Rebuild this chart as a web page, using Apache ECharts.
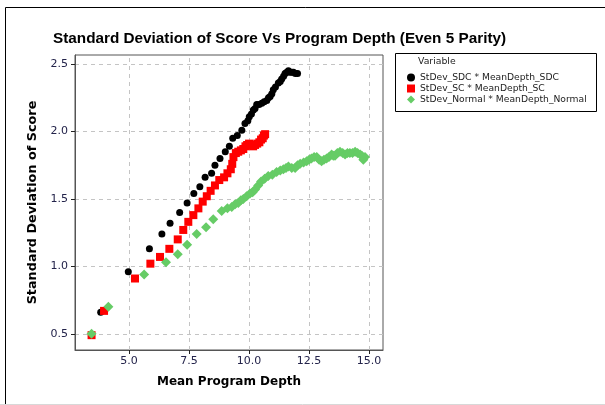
<!DOCTYPE html>
<html>
<head>
<meta charset="utf-8">
<script src="https://cdn.jsdelivr.net/npm/echarts@6/dist/echarts.min.js"></script>
<style>html,body{margin:0;padding:0;background:#fff;}#c{width:605px;height:405px;}</style>
</head>
<body>
<div id="c"></div>
<script>
const xTicks = [5, 7.5, 10, 12.5, 15];
const yTicks = [0.5, 1.0, 1.5, 2.0, 2.5];

const seriesNames = ['StDev_SDC * MeanDepth_SDC', 'StDev_SC * MeanDepth_SC', 'StDev_Normal * MeanDepth_Normal'];

const sdcX = [3.82,4.97,5.85,6.37,6.71,7.11,7.42,7.70,7.95,8.17,8.44,8.58,8.79,9.01,9.18,9.32,9.51,9.70,9.83,9.95,10.01,10.10,10.18,10.25,10.32,10.42,10.53,10.63,10.74,10.81,10.88,10.95,11.01,11.10,11.22,11.30,11.36,11.44,11.50,11.57,11.64,11.70,11.78,11.85,11.93,12.02];
const sdcY = [0.66,0.96,1.13,1.24,1.32,1.40,1.47,1.54,1.59,1.66,1.69,1.75,1.80,1.85,1.89,1.95,1.97,2.01,2.06,2.08,2.11,2.13,2.16,2.17,2.20,2.20,2.21,2.22,2.23,2.25,2.26,2.28,2.31,2.33,2.36,2.37,2.39,2.41,2.43,2.44,2.45,2.44,2.44,2.44,2.43,2.43];

const scX = [3.44,3.96,5.25,5.89,6.29,6.68,7.03,7.26,7.47,7.68,7.89,8.07,8.24,8.40,8.58,8.76,8.96,9.10,9.24,9.30,9.35,9.45,9.55,9.66,9.76,9.85,9.92,10.00,10.08,10.17,10.25,10.34,10.43,10.50,10.57,10.62,10.67];
const scY = [0.49,0.67,0.91,1.02,1.07,1.13,1.20,1.27,1.33,1.38,1.43,1.48,1.52,1.56,1.60,1.64,1.66,1.69,1.72,1.76,1.81,1.84,1.85,1.86,1.87,1.89,1.90,1.91,1.90,1.89,1.90,1.91,1.92,1.94,1.95,1.97,1.98];

const normX = [3.44,4.14,5.63,6.54,7.03,7.42,7.82,8.21,8.51,8.86,9.10,9.28,9.42,9.55,9.66,9.76,9.90,10.04,10.15,10.25,10.38,10.50,10.65,10.80,10.97,11.15,11.30,11.43,11.54,11.64,11.78,11.92,12.02,12.13,12.27,12.40,12.50,12.60,12.71,12.82,12.92,13.02,13.12,13.23,13.33,13.44,13.51,13.58,13.68,13.79,13.90,14.00,14.10,14.20,14.31,14.42,14.52,14.63,14.70,14.76,14.83];
const normY = [0.50,0.70,0.94,1.03,1.09,1.16,1.24,1.29,1.35,1.41,1.43,1.44,1.46,1.47,1.49,1.50,1.52,1.54,1.55,1.57,1.60,1.63,1.65,1.67,1.68,1.70,1.71,1.72,1.73,1.74,1.73,1.73,1.75,1.76,1.77,1.78,1.79,1.80,1.81,1.81,1.79,1.78,1.79,1.80,1.81,1.83,1.82,1.82,1.84,1.85,1.84,1.83,1.84,1.84,1.84,1.85,1.84,1.83,1.82,1.79,1.81];

function zip(a, b) { return a.map((v, i) => [v, b[i]]); }

const FONT = 'DejaVu Sans';
const gridLines = xTicks.map(v => ({ xAxis: v })).concat(yTicks.map(v => ({ yAxis: v })));

const chart = echarts.init(document.getElementById('c'), null, { renderer: 'canvas' });
chart.setOption({
  animation: false,
  backgroundColor: '#ffffff',
  title: {
    text: 'Standard Deviation of Score Vs Program Depth (Even 5 Parity)',
    left: 48, top: 26,
    textStyle: { fontFamily: 'Liberation Sans', fontWeight: 'bold', fontSize: 15.3, color: '#000' }
  },
  graphic: [
    { type: 'line', shape: { x1: 5.5, y1: 7.5, x2: 605, y2: 7.5 }, style: { stroke: '#000', lineWidth: 1 } },
    { type: 'line', shape: { x1: 5.5, y1: 7.5, x2: 5.5, y2: 405 }, style: { stroke: '#000', lineWidth: 1 } },
    { type: 'line', shape: { x1: 0, y1: 404.5, x2: 605, y2: 404.5 }, style: { stroke: '#d8d8d8', lineWidth: 1 } },
    { type: 'rect', shape: { x: 395.5, y: 53.5, width: 201, height: 58 }, style: { fill: '#fff', stroke: '#000', lineWidth: 1 }, z: 0 },
    { type: 'text', left: 418, top: 57, style: { text: 'Variable', fontFamily: FONT, fontSize: 9.3, fill: '#222' }, z: 10 }
  ],
  legend: {
    orient: 'vertical', left: 402, top: 68,
    itemWidth: 8, itemHeight: 8, itemGap: 2,
    textStyle: { fontFamily: FONT, fontSize: 9.2, color: '#222' },
    data: [
      { name: seriesNames[0], icon: 'circle' },
      { name: seriesNames[1], icon: 'rect' },
      { name: seriesNames[2], icon: 'diamond' }
    ],
    z: 10
  },
  grid: { left: 75, top: 55, width: 308, height: 295, show: true, borderColor: '#555', borderWidth: 1 },
  xAxis: {
    type: 'value', min: 2.75, max: 15.58,
    name: 'Mean Program Depth', nameLocation: 'middle', nameGap: 26,
    nameTextStyle: { fontFamily: FONT, fontWeight: 'bold', fontSize: 12, color: '#000' },
    axisLine: { show: true, lineStyle: { color: '#555', width: 1 } },
    axisTick: { show: true, length: 4, customValues: xTicks, lineStyle: { color: '#222' } },
    axisLabel: { customValues: xTicks, formatter: v => v.toFixed(1), fontFamily: FONT, fontSize: 11, color: '#23234a', margin: 6 },
    splitLine: { show: false }
  },
  yAxis: {
    type: 'value', min: 0.38, max: 2.567,
    name: 'Standard Deviation of Score', nameLocation: 'middle', nameGap: 36,
    nameTextStyle: { fontFamily: FONT, fontWeight: 'bold', fontSize: 12.8, color: '#000' },
    axisLine: { show: true, lineStyle: { color: '#555', width: 1 } },
    axisTick: { show: true, length: 4, customValues: yTicks, lineStyle: { color: '#222' } },
    axisLabel: { customValues: yTicks, formatter: v => v.toFixed(1), fontFamily: FONT, fontSize: 11, color: '#23234a', margin: 7 },
    splitLine: { show: false }
  },
  series: [
    {
      name: seriesNames[0], type: 'scatter', symbol: 'circle', symbolSize: 7,
      itemStyle: { color: '#000000', opacity: 1 },
      data: zip(sdcX, sdcY),
      markLine: {
        silent: true, symbol: ['none', 'none'], label: { show: false },
        lineStyle: { type: [4, 4], color: '#c4c4c4', width: 1 },
        data: gridLines, z: 0
      },
      z: 2
    },
    {
      name: seriesNames[1], type: 'scatter', symbol: 'rect', symbolSize: 8,
      itemStyle: { color: '#ff0000', opacity: 1 },
      data: zip(scX, scY), z: 3
    },
    {
      name: seriesNames[2], type: 'scatter', symbol: 'diamond', symbolSize: 10,
      itemStyle: { color: '#66cc66', opacity: 1 },
      data: zip(normX, normY), z: 4
    }
  ]
});
</script>
</body>
</html>
